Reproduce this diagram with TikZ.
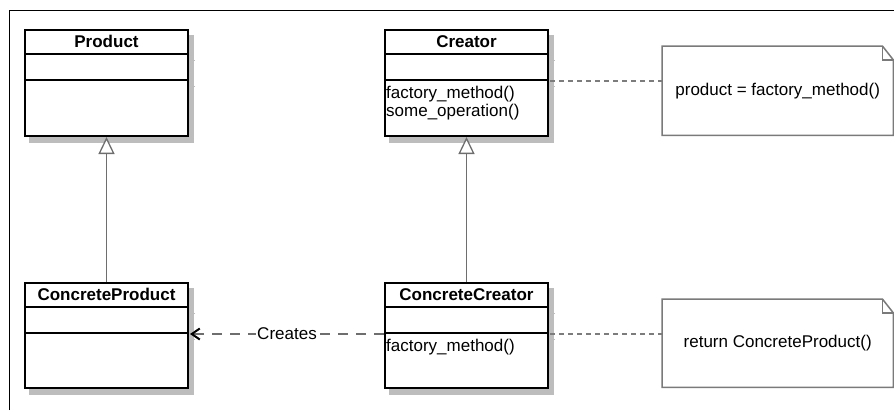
\documentclass[tikz,border=0pt]{standalone}
\usepackage{fontspec}
\setmainfont{Liberation Sans}
\usetikzlibrary{arrows.meta,calc,backgrounds}
\definecolor{shadowgray}{HTML}{BDBDBD}
\definecolor{linegray}{HTML}{6E6E6E}
\definecolor{notegray}{HTML}{7A7A7A}
\definecolor{dotgray}{HTML}{7C7C7C}
\tikzset{
  umlbox/.style={draw=black, line width=2pt, fill=white, anchor=north west,
    minimum width=163pt, inner sep=0pt},
  cline/.style={line width=2pt, black},
  sline/.style={line width=1pt, shadowgray},
  classname/.style={font=\fontsize{17}{19}\selectfont\bfseries, anchor=base, inner sep=0pt},
  method/.style={font=\fontsize{17}{19}\selectfont, anchor=base west, inner sep=0pt},
  notebox/.style={anchor=north west, minimum width=231pt, inner sep=0pt,
    font=\fontsize{17}{19}\selectfont},
  noteline/.style={draw=notegray, line width=1.5pt, line join=miter},
  inherit/.style={draw=linegray, line width=1.5pt,
    -{Triangle[open, length=17pt, width=16pt, line width=1.3pt, fill=white]}},
  creates/.style={draw=linegray, line width=1.8pt, dash pattern=on 10pt off 8pt,
    -{Straight Barb[length=8pt, width=11pt, line width=2pt, color=black]}},
  anchorline/.style={draw=dotgray, line width=2.2pt, dash pattern=on 4.5pt off 4.5pt},
}
\begin{document}
\begin{tikzpicture}[x=1pt, y=-1pt]
\useasboundingbox (0,0) rectangle (894,410);
% frame
\draw[line width=1pt] (9,410) -- (9,10) -- (894,10);

% class boxes
\node[umlbox, minimum height=106pt] (product) at (24,29) {};
\node[umlbox, minimum height=106pt] (creator) at (384,29) {};
\node[umlbox, minimum height=105pt] (cproduct) at (24,282) {};
\node[umlbox, minimum height=105pt] (ccreator) at (384,282) {};

% shadows and compartment lines
\foreach \b in {product,creator,cproduct,ccreator}{
  \begin{pgfonlayer}{background}
    \fill[shadowgray] ($(\b.north west)+(5,6)$) rectangle ($(\b.south east)+(5,6)$);
  \end{pgfonlayer}
  \foreach \d in {25,51}{
    \draw[sline] ($(\b.north east)+(1,\d+6)$) -- ($(\b.north east)+(6,\d+6)$);
    \draw[cline] ($(\b.north west)+(0,\d)$) -- ($(\b.north east)+(0,\d)$);
  }
}

% class names
\node[classname] (productname) at ($(product.north)+(0,18)$) {Product};
\node[classname] (creatorname) at ($(creator.north)+(0,18)$) {Creator};
\node[classname] (cproductname) at ($(cproduct.north)+(0,18)$) {ConcreteProduct};
\node[classname] (ccreatorname) at ($(ccreator.north)+(0,18)$) {ConcreteCreator};

% methods
\node[method] (m1) at ($(creator.north west)+(2,69)$) {factory\_method()};
\node[method] (m2) at ($(creator.north west)+(2,87)$) {some\_operation()};
\node[method] (m3) at ($(ccreator.north west)+(2,69)$) {factory\_method()};

% notes
\node[notebox, minimum height=89pt] (note1) at (662,46) {product = factory\_method()};
\node[notebox, minimum height=88pt] (note2) at (662,299) {return ConcreteProduct()};
\foreach \n in {note1,note2}{
  \draw[noteline] (\n.north west) -- ($(\n.north east)+(-11,0)$) -- ($(\n.north east)+(0,14)$)
     -- (\n.south east) -- (\n.south west) -- cycle;
  \draw[draw=notegray, line width=1.5pt] ($(\n.north east)+(-11,0)$) |- ($(\n.north east)+(0,14)$);
}

% note anchors
\coordinate (c1) at ($(creator.north east)+(1,52)$);
\coordinate (c2) at ($(ccreator.north east)+(1,52)$);
\draw[anchorline] (c1) -- (c1 -| note1.west);
\draw[anchorline] (c2) -- (c2 -| note2.west);

% inheritance
\draw[inherit] (cproduct.north) -- (product.south);
\draw[inherit] (ccreator.north) -- (creator.south);

% creates dependency
\coordinate (cr1) at ($(ccreator.north west)+(0,52)$);
\coordinate (cr2) at ($(cproduct.north east)+(1,52)$);
\draw[creates] (cr1) -- (cr2)
  node[midway, fill=white, inner sep=1pt, font=\fontsize{17}{19}\selectfont] (createslabel) {Creates};
\end{tikzpicture}
\end{document}
